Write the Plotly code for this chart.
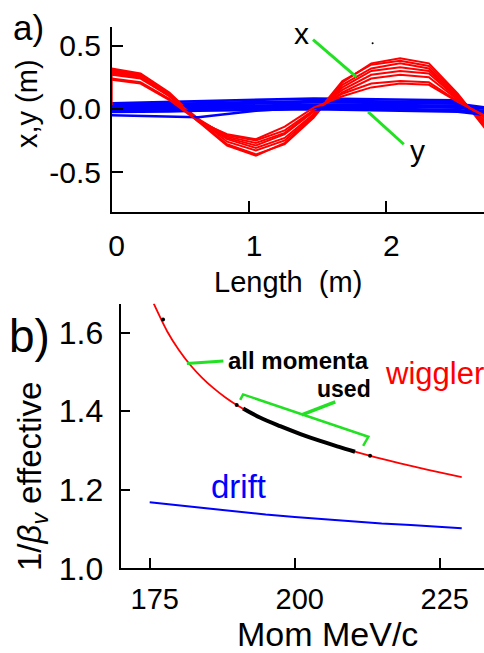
import plotly.graph_objects as go

W, H = 484, 653


def pxx(x):
    return x / W


def pyy(y):
    return 1 - y / H


# ---------------- panel a) data ----------------
length_m = [0, 0.21, 0.42, 0.63, 0.84, 1.05, 1.26, 1.47, 1.68, 1.89, 2.10, 2.31, 2.52, 2.73]

x_traj_1 = [0.32, 0.28, 0.13, -0.09, -0.28, -0.36, -0.28, -0.07, 0.21, 0.36, 0.40, 0.36, 0.12, -0.17]
x_traj_2 = [0.31, 0.27, 0.12, -0.10, -0.29, -0.37, -0.27, -0.06, 0.22, 0.35, 0.38, 0.34, 0.11, -0.15]
x_traj_3 = [0.30, 0.27, 0.12, -0.08, -0.26, -0.33, -0.25, -0.05, 0.19, 0.32, 0.36, 0.32, 0.10, -0.13]
x_traj_4 = [0.29, 0.26, 0.11, -0.09, -0.24, -0.31, -0.23, -0.04, 0.17, 0.30, 0.33, 0.30, 0.09, -0.11]
x_traj_5 = [0.28, 0.25, 0.10, -0.10, -0.23, -0.29, -0.20, -0.02, 0.15, 0.27, 0.30, 0.28, 0.08, -0.10]
x_traj_6 = [0.27, 0.24, 0.10, -0.08, -0.22, -0.27, -0.19, -0.02, 0.13, 0.24, 0.27, 0.25, 0.07, -0.08]
x_traj_7 = [0.24, 0.21, 0.08, -0.09, -0.21, -0.25, -0.17, -0.01, 0.12, 0.20, 0.22, 0.21, 0.06, -0.07]
x_traj_8 = [0.23, 0.20, 0.07, -0.10, -0.20, -0.24, -0.14, 0.01, 0.10, 0.17, 0.20, 0.19, 0.055, -0.06]
x_start_len = [0, 0]
x_start_val = [0.03, 0.32]

y_traj_1 = [0.045, 0.050, 0.055, 0.060, 0.065, 0.070, 0.078, 0.082, 0.080, 0.075, 0.072, 0.070, 0.068]
y_traj_2 = [0.035, 0.035, 0.040, 0.045, 0.050, 0.055, 0.060, 0.065, 0.065, 0.060, 0.058, 0.055, 0.052]
y_traj_3 = [0.025, 0.025, 0.030, 0.035, 0.040, 0.045, 0.048, 0.050, 0.050, 0.046, 0.045, 0.040, 0.040, 0.010]
y_traj_4 = [0.012, 0.012, 0.017, 0.022, 0.025, 0.030, 0.034, 0.036, 0.035, 0.033, 0.030, 0.028, 0.025, 0.000]
y_traj_5 = [0.000, 0.000, 0.005, 0.010, 0.012, 0.016, 0.020, 0.022, 0.022, 0.018, 0.016, 0.012, 0.010, -0.020]
y_traj_6 = [-0.010, -0.010, -0.005, 0.000, 0.002, 0.006, 0.010, 0.010, 0.006, 0.002, 0.000, -0.005, -0.010, -0.032]
y_traj_7 = [-0.025, -0.025, -0.020, -0.015, -0.012, -0.008, -0.004, -0.002, -0.006, -0.010, -0.015, -0.020, -0.022, -0.048]
y_traj_8 = [-0.050, -0.055, -0.060, -0.066, -0.040, -0.015, 0.000, 0.010, 0.015, 0.020, 0.020, 0.020, 0.020]

x_pointer_len = [1.466, 1.781]
x_pointer_val = [0.549, 0.253]
y_pointer_len = [1.867, 2.127]
y_pointer_val = [-0.024, -0.280]
speck_len = [1.90]
speck_val = [0.52]

top_y_ticks = [-0.5, 0, 0.5]
top_y_labels = ["-0.5", "0.0", "0.5"]

# ---------------- panel b) data ----------------
wiggler_mom = [175.7, 178, 180, 182, 184, 186, 188, 190, 193, 196, 199, 202, 205, 208, 211, 214, 218, 223, 228.8]
wiggler_inv_beta = [1.674, 1.604, 1.557, 1.518, 1.486, 1.459, 1.436, 1.416, 1.391, 1.371, 1.353, 1.337,
                    1.3215, 1.3075, 1.2945, 1.2825, 1.268, 1.251, 1.232]

drift_mom = [175, 180, 185, 190, 195, 200, 205, 210, 215, 220, 225, 228.8]
drift_inv_beta = [1.168, 1.160, 1.152, 1.144, 1.137, 1.131, 1.125, 1.120, 1.114, 1.110, 1.105, 1.102]

used_mom = [191.1, 194, 197.5, 201, 204.4, 207.5, 210.4]
used_inv_beta = [1.407, 1.384, 1.362, 1.342, 1.3245, 1.310, 1.297]

dot_mom = [177.3, 190.0, 213.0]
dot_inv_beta = [1.634, 1.416, 1.2865]

all_pointer_mom = [181.4, 187.7]
all_pointer_val = [1.522, 1.528]
bracket_mom = [190.6, 191.1, 212.7, 211.8]
bracket_val = [1.429, 1.443, 1.335, 1.312]
used_pointer_mom = [201.2, 207.0]
used_pointer_val = [1.391, 1.424]

RED = "#ff0000"
BLUE = "#0000ff"
GREEN = "#22e022"
FONT = "Liberation Sans"

fig = go.Figure()

x_trajs = [x_traj_1, x_traj_2, x_traj_3, x_traj_4, x_traj_5, x_traj_6, x_traj_7, x_traj_8]
y_trajs = [y_traj_1, y_traj_2, y_traj_3, y_traj_4, y_traj_5, y_traj_6, y_traj_7, y_traj_8]
for xt, yt in zip(x_trajs, y_trajs):
    fig.add_trace(go.Scatter(x=length_m[:len(yt)], y=yt, mode="lines",
                             line=dict(color=BLUE, width=2.6), xaxis="x", yaxis="y"))
    fig.add_trace(go.Scatter(x=length_m[:len(xt)], y=xt, mode="lines",
                             line=dict(color=RED, width=2), xaxis="x", yaxis="y"))
fig.add_trace(go.Scatter(x=x_start_len, y=x_start_val, mode="lines",
                         line=dict(color=RED, width=2), xaxis="x", yaxis="y"))
fig.add_trace(go.Scatter(x=x_pointer_len, y=x_pointer_val, mode="lines",
                         line=dict(color=GREEN, width=3), xaxis="x", yaxis="y"))
fig.add_trace(go.Scatter(x=y_pointer_len, y=y_pointer_val, mode="lines",
                         line=dict(color=GREEN, width=3), xaxis="x", yaxis="y"))
fig.add_trace(go.Scatter(x=speck_len, y=speck_val, mode="markers",
                         marker=dict(color="black", size=2), xaxis="x", yaxis="y"))
# invisible trace that activates the label-only axis of panel a
fig.add_trace(go.Scatter(x=speck_len, y=speck_val, mode="markers",
                         marker=dict(color="rgba(0,0,0,0)", size=1), hoverinfo="skip",
                         xaxis="x", yaxis="y3"))

# panel b
fig.add_trace(go.Scatter(x=wiggler_mom, y=wiggler_inv_beta, mode="lines",
                         line=dict(color=RED, width=1.8, shape="spline", smoothing=0.8),
                         xaxis="x2", yaxis="y2"))
fig.add_trace(go.Scatter(x=drift_mom, y=drift_inv_beta, mode="lines",
                         line=dict(color=BLUE, width=2), xaxis="x2", yaxis="y2"))
fig.add_trace(go.Scatter(x=used_mom, y=used_inv_beta, mode="lines",
                         line=dict(color="black", width=4, shape="spline"), xaxis="x2", yaxis="y2"))
fig.add_trace(go.Scatter(x=dot_mom, y=dot_inv_beta, mode="markers",
                         marker=dict(color="black", size=4), xaxis="x2", yaxis="y2"))
fig.add_trace(go.Scatter(x=all_pointer_mom, y=all_pointer_val, mode="lines",
                         line=dict(color=GREEN, width=3), xaxis="x2", yaxis="y2"))
fig.add_trace(go.Scatter(x=bracket_mom, y=bracket_val, mode="lines",
                         line=dict(color=GREEN, width=2.5), xaxis="x2", yaxis="y2"))
fig.add_trace(go.Scatter(x=used_pointer_mom, y=used_pointer_val, mode="lines",
                         line=dict(color=GREEN, width=3.5), xaxis="x2", yaxis="y2"))

axis_common = dict(showline=True, linecolor="black", showgrid=False, zeroline=False,
                   ticks="inside", tickcolor="black", fixedrange=True, automargin=False)

TOP_Y_DOMAIN = [pyy(211.7), pyy(27)]
TOP_Y_RANGE = [-0.814, 0.648]

fig.update_layout(
    width=W, height=H,
    margin=dict(l=0, r=0, t=0, b=0, pad=0),
    paper_bgcolor="white", plot_bgcolor="white",
    showlegend=False,
    font=dict(family=FONT, color="black"),
    xaxis=dict(domain=[111.7 / W, 1], range=[0, 2.711], anchor="y",
               tickvals=[0, 1, 2], ticktext=["0", "1", "2"], linewidth=2, ticklen=11, tickwidth=2,
               tickfont=dict(size=30), ticklabelstandoff=6, ticklabelshift=5, **axis_common),
    yaxis=dict(domain=TOP_Y_DOMAIN, range=TOP_Y_RANGE, anchor="x",
               tickvals=top_y_ticks, showticklabels=False, linewidth=2, ticklen=11,
               tickwidth=2, **axis_common),
    yaxis3=dict(domain=TOP_Y_DOMAIN, range=TOP_Y_RANGE, anchor="free", overlaying="y",
                position=101 / W, side="left",
                tickvals=top_y_ticks, ticktext=top_y_labels, tickfont=dict(size=30),
                showline=False, showgrid=False, zeroline=False, ticks="", fixedrange=True,
                automargin=False),
    xaxis2=dict(domain=[120.7 / W, 1], range=[170, 232.64], anchor="y2",
                tickvals=[175, 200, 225], ticktext=["175", "200", "225"], linewidth=2, ticklen=10,
                tickwidth=1.5, tickfont=dict(size=29), ticklabelstandoff=4, ticklabelshift=5,
                **axis_common),
    yaxis2=dict(domain=[pyy(568.3), pyy(303.5)], range=[1.0, 1.6746], anchor="x2",
                tickvals=[1.0, 1.2, 1.4, 1.6], ticktext=["1.0", "1.2", "1.4", "1.6"], linewidth=2,
                ticklen=9, tickwidth=1.5, tickfont=dict(size=32), ticklabelstandoff=9,
                **axis_common),
)


def label(text, x, y, size, color="black", xanchor="center", angle=0, bold=False):
    if bold:
        text = "<b>" + text + "</b>"
    fig.add_annotation(text=text, x=pxx(x), y=pyy(y), xref="paper", yref="paper",
                       xanchor=xanchor, yanchor="middle", showarrow=False, textangle=angle,
                       borderpad=0, font=dict(size=size, color=color, family=FONT))


label("a)", 28, 28, 35)
label("b)", 29, 336, 46)
label("x,y\u00a0(m)", 27, 104, 29, angle=-90)
label("Length\u00a0\u00a0(m)", 287.5, 282, 29)
label("1/<i>β<sub>v</sub></i>\u00a0effective", 32, 477, 33, angle=-90)
label("Mom MeV/c", 327.5, 634, 34)
label("x", 301, 33, 30)
label("y", 417, 150, 30)
label("all momenta", 227, 360, 24, xanchor="left", bold=True)
label("used", 372, 389, 23, xanchor="right", bold=True)
label("wiggler", 485, 373, 31, color=RED, xanchor="right")
label("drift", 210, 486, 33, color=BLUE, xanchor="left")

fig.write_html("out.html", config={"displayModeBar": False},
               post_script="document.body.style.margin='0';document.body.style.overflow='hidden';")
